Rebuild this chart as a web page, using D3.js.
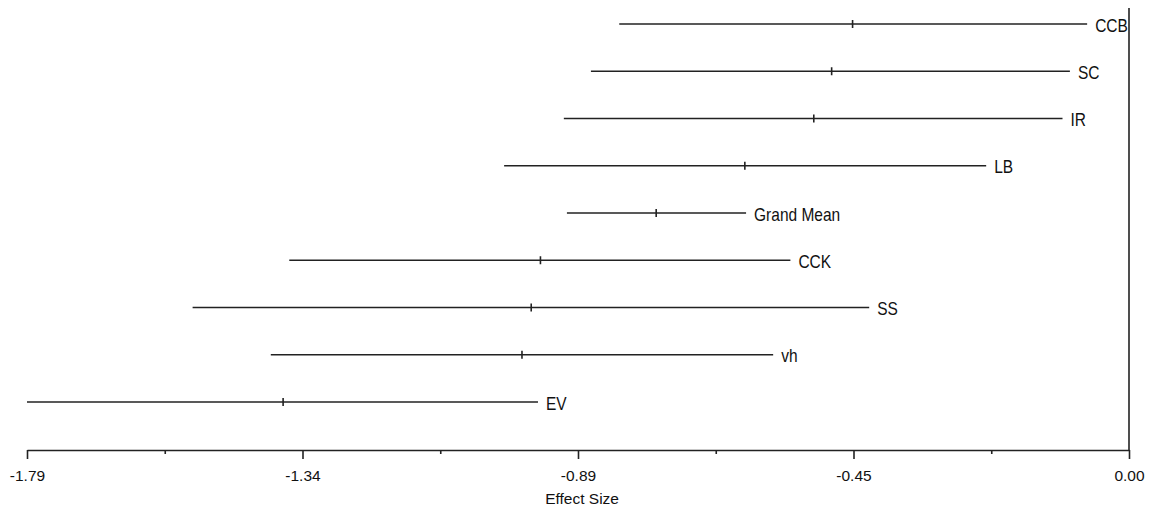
<!DOCTYPE html>
<html>
<head>
<meta charset="utf-8">
<script src="https://cdnjs.cloudflare.com/ajax/libs/d3/7.8.5/d3.min.js"></script>
<style>
  body { margin: 0; background: #fff; }
  svg text { font-family: "Liberation Sans", Arial, sans-serif; font-size: 15.5px; fill: #111; }
</style>
</head>
<body>
<svg width="1149" height="507"></svg>
<script>
const width = 1149;
const height = 507;

// studies, top to bottom
const studies = ["CCB", "SC", "IR", "LB", "Grand Mean", "CCK", "SS", "vh", "EV"];
const lower = [-0.828, -0.874, -0.918, -1.015, -0.913, -1.364, -1.521, -1.394, -1.790];
const mean  = [-0.449, -0.483, -0.512, -0.624, -0.768, -0.956, -0.971, -0.986, -1.374];
const upper = [-0.068, -0.096, -0.108, -0.232, -0.622, -0.550, -0.422, -0.578, -0.960];

const tickLabels = ["-1.79", "", "-1.34", "", "-0.89", "", "-0.45", "", "0.00"];

const svg = d3.select("svg");

const x = d3.scaleLinear()
  .domain([-1.79, 0])
  .range([27, 1129]);

const y = d3.scalePoint()
  .domain(studies)
  .range([24, 402]);

const axisY = 450;

const rows = studies.map((s, i) => ({ name: s, lo: lower[i], m: mean[i], hi: upper[i] }));

// axis
const tickVals = d3.range(9).map(i => -1.79 + i * 1.79 / 8);
const xAxis = d3.axisBottom(x)
  .tickValues(tickVals)
  .tickSize(9)
  .tickSizeOuter(0)
  .tickFormat((d, i) => tickLabels[i]);

const gx = svg.append("g")
  .attr("transform", `translate(0,${axisY})`)
  .call(xAxis);
gx.select(".domain").attr("stroke", "#222").attr("stroke-width", 1.6);
gx.selectAll(".tick line")
  .attr("stroke", "#222")
  .attr("stroke-width", 1.6)
  .attr("y2", (d, i) => i % 2 ? 4 : 9);
gx.selectAll(".tick text")
  .attr("y", 20)
  .attr("dy", "0.71em")
  .style("font-family", "'Liberation Sans', Arial, sans-serif")
  .style("font-size", "15.5px")
  .attr("fill", "#111");

// right border line
svg.append("line")
  .attr("x1", x(0)).attr("x2", x(0))
  .attr("y1", 8).attr("y2", axisY)
  .attr("stroke", "#222")
  .attr("stroke-width", 1.6);

svg.append("text")
  .attr("x", x(-0.89) + 1)
  .attr("y", 504)
  .attr("text-anchor", "middle")
  .text("Effect Size");

// intervals
const g = svg.selectAll(".row")
  .data(rows)
  .enter().append("g")
  .attr("class", "row");

g.append("line")
  .attr("x1", d => x(d.lo))
  .attr("x2", d => x(d.hi))
  .attr("y1", d => y(d.name))
  .attr("y2", d => y(d.name))
  .attr("stroke", "#222")
  .attr("stroke-width", 1.6);

g.append("line")
  .attr("x1", d => x(d.m))
  .attr("x2", d => x(d.m))
  .attr("y1", d => y(d.name) - 4)
  .attr("y2", d => y(d.name) + 4)
  .attr("stroke", "#222")
  .attr("stroke-width", 1.6);

// labels are a bit taller than wide in the original
g.append("text")
  .attr("transform", d => `translate(${x(d.hi) + 8},${y(d.name) + 1}) scale(1,1.2)`)
  .attr("dy", "0.35em")
  .text(d => d.name);
</script>
</body>
</html>
